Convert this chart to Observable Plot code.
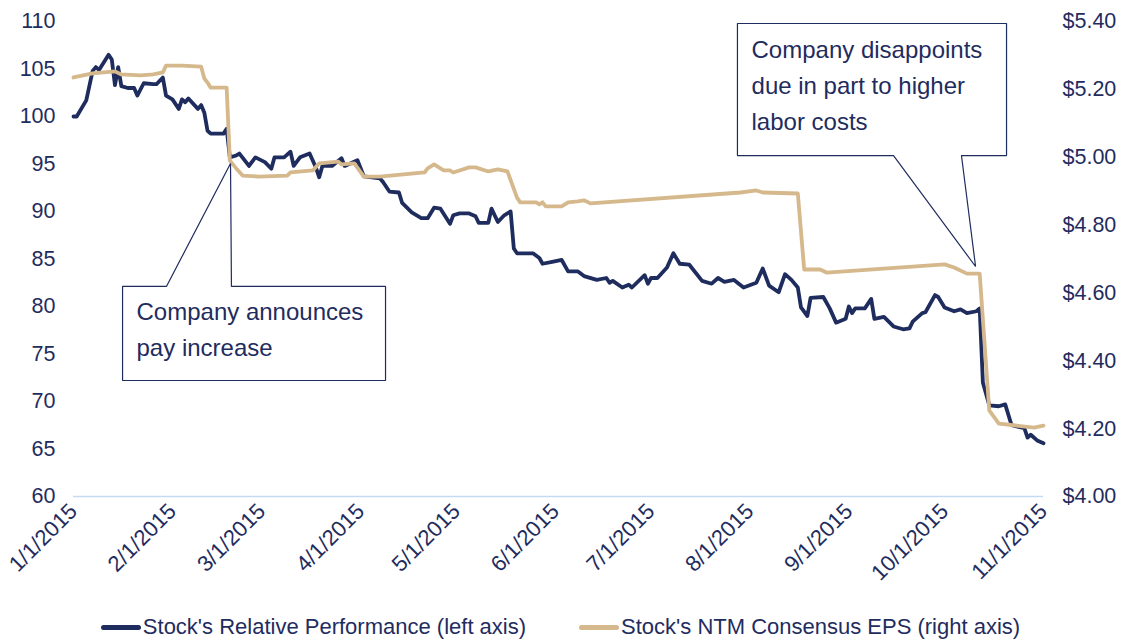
<!DOCTYPE html>
<html><head><meta charset="utf-8">
<script src="https://cdn.jsdelivr.net/npm/d3@7"></script>
<script src="https://cdn.jsdelivr.net/npm/@observablehq/plot@0.6"></script>
<style>
html,body{margin:0;padding:0;background:#fff;}
body{width:1121px;height:641px;overflow:hidden;font-family:"Liberation Sans",Arial,sans-serif;}
#legend{display:flex;justify-content:center;align-items:center;gap:53px;font-size:22px;color:#1f2c5e;margin-top:14px;line-height:26px;}
.item{display:flex;align-items:center;}
.sw{width:40px;height:5px;border-radius:3px;margin-right:2px;}
</style></head><body><div id="chart"></div><div id="legend"></div>
<script>
const perfDates = ["2015-01-01","2015-01-02","2015-01-05","2015-01-07","2015-01-08","2015-01-09","2015-01-12","2015-01-13","2015-01-14","2015-01-15","2015-01-16","2015-01-18","2015-01-20","2015-01-21","2015-01-23","2015-01-26","2015-01-27","2015-01-29","2015-01-30","2015-02-01","2015-02-03","2015-02-04","2015-02-05","2015-02-06","2015-02-09","2015-02-10","2015-02-11","2015-02-12","2015-02-13","2015-02-17","2015-02-18","2015-02-19","2015-02-21","2015-02-22","2015-02-25","2015-02-27","2015-03-02","2015-03-04","2015-03-05","2015-03-08","2015-03-10","2015-03-11","2015-03-13","2015-03-16","2015-03-18","2015-03-19","2015-03-20","2015-03-23","2015-03-26","2015-03-27","2015-03-31","2015-04-02","2015-04-07","2015-04-08","2015-04-10","2015-04-13","2015-04-14","2015-04-17","2015-04-20","2015-04-22","2015-04-24","2015-04-26","2015-04-29","2015-04-30","2015-05-02","2015-05-05","2015-05-07","2015-05-08","2015-05-11","2015-05-12","2015-05-14","2015-05-16","2015-05-18","2015-05-19","2015-05-20","2015-05-25","2015-05-27","2015-05-28","2015-05-31","2015-06-03","2015-06-05","2015-06-08","2015-06-10","2015-06-14","2015-06-17","2015-06-18","2015-06-19","2015-06-22","2015-06-24","2015-06-25","2015-06-29","2015-06-30","2015-07-01","2015-07-03","2015-07-06","2015-07-08","2015-07-10","2015-07-13","2015-07-17","2015-07-20","2015-07-22","2015-07-24","2015-07-27","2015-07-30","2015-08-03","2015-08-05","2015-08-07","2015-08-10","2015-08-12","2015-08-14","2015-08-16","2015-08-17","2015-08-19","2015-08-20","2015-08-24","2015-08-26","2015-08-28","2015-08-31","2015-09-01","2015-09-02","2015-09-03","2015-09-06","2015-09-08","2015-09-09","2015-09-12","2015-09-15","2015-09-18","2015-09-20","2015-09-21","2015-09-24","2015-09-25","2015-09-28","2015-09-29","2015-10-01","2015-10-04","2015-10-06","2015-10-08","2015-10-11","2015-10-12","2015-10-13","2015-10-15","2015-10-18","2015-10-20","2015-10-22","2015-10-26","2015-10-27","2015-10-28","2015-10-30","2015-11-01"];
const perfValues = [100.0,100.0,101.7,104.8,105.2,104.9,106.5,106.0,103.3,105.2,103.2,103.0,103.0,102.2,103.5,103.4,103.4,104.1,102.2,101.8,100.8,101.8,101.5,101.9,100.8,101.2,100.4,98.5,98.2,98.2,98.7,95.7,95.9,96.1,94.8,95.7,95.2,94.5,95.7,95.7,96.3,94.8,95.7,96.1,94.6,93.6,94.8,94.8,95.6,94.8,95.4,93.7,93.5,93.1,92.1,92.0,90.9,89.9,89.3,89.3,90.4,90.3,88.7,89.6,89.8,89.8,89.5,88.8,88.8,90.3,88.9,89.6,90.0,86.1,85.6,85.6,85.1,84.5,84.7,84.9,83.7,83.7,83.2,82.8,83.0,82.5,82.7,82.0,82.3,82.0,83.3,82.4,83.0,83.0,84.1,85.6,84.5,84.4,82.7,82.4,83.0,82.6,82.8,82.0,82.5,84.0,82.2,81.5,83.4,82.8,82.0,79.9,79.0,80.9,81.0,79.8,78.3,78.7,80.0,79.3,79.8,79.8,80.8,78.7,78.9,77.9,77.6,77.7,78.4,79.3,79.4,81.2,81.0,79.9,79.5,79.7,79.3,79.5,79.8,72.0,69.6,69.5,69.7,67.5,67.2,66.2,66.5,65.9,65.6];

const epsDates = ["2015-01-01","2015-01-07","2015-01-14","2015-01-16","2015-01-22","2015-01-26","2015-01-29","2015-01-30","2015-02-04","2015-02-10","2015-02-11","2015-02-12","2015-02-13","2015-02-18","2015-02-19","2015-02-21","2015-02-23","2015-02-28","2015-03-09","2015-03-10","2015-03-17","2015-03-19","2015-03-25","2015-03-26","2015-03-30","2015-04-02","2015-04-07","2015-04-21","2015-04-22","2015-04-24","2015-04-27","2015-04-29","2015-04-30","2015-05-05","2015-05-07","2015-05-11","2015-05-14","2015-05-17","2015-05-20","2015-05-21","2015-05-26","2015-05-27","2015-05-28","2015-05-29","2015-06-03","2015-06-05","2015-06-08","2015-06-10","2015-06-12","2015-07-29","2015-08-03","2015-08-05","2015-08-16","2015-08-18","2015-08-23","2015-08-25","2015-10-01","2015-10-04","2015-10-08","2015-10-12","2015-10-15","2015-10-18","2015-10-29","2015-11-01"];
const epsValues = [5.235,5.247,5.253,5.244,5.241,5.244,5.250,5.270,5.270,5.267,5.232,5.220,5.205,5.205,4.990,4.967,4.946,4.943,4.946,4.955,4.961,4.982,4.987,4.979,4.982,4.943,4.943,4.955,4.967,4.979,4.961,4.961,4.955,4.970,4.970,4.958,4.964,4.958,4.881,4.867,4.867,4.861,4.867,4.855,4.855,4.867,4.870,4.873,4.864,4.896,4.902,4.896,4.893,4.669,4.669,4.660,4.684,4.675,4.657,4.657,4.254,4.215,4.203,4.209];

const leftTicks = [60,65,70,75,80,85,90,95,100,105,110];
const rightTicks = [4.00,4.20,4.40,4.60,4.80,5.00,5.20,5.40];
const monthTicks = ["2015-01-01","2015-02-01","2015-03-01","2015-04-01","2015-05-01","2015-06-01","2015-07-01","2015-08-01","2015-09-01","2015-10-01","2015-11-01"];

const seriesNames = ["Stock's Relative Performance (left axis)","Stock's NTM Consensus EPS (right axis)"];

// annotation callouts (data coordinates: date, left-axis value)
const callout1Dates = ["2015-01-16T09:00","2015-01-30T03:00","2015-02-19T05:00","2015-02-19T12:00","2015-04-08T19:00","2015-04-08T19:00","2015-01-16T09:00","2015-01-16T09:00"];
const callout1Values = [82.11,82.11,95.05,82.11,82.11,72.21,72.21,82.11];
const callout2Dates = ["2015-07-28T02:00","2015-10-20T10:00","2015-10-20T10:00","2015-10-06T07:00","2015-10-10T17:00","2015-09-15T00:00","2015-07-28T02:00","2015-07-28T02:00"];
const callout2Values = [109.79,109.79,95.89,95.89,84.21,95.89,95.89,109.79];
const noteTexts = ["Company announces\npay increase","Company disappoints\ndue in part to higher\nlabor costs"];
const noteDates = ["2015-01-20T18:00","2015-08-01T12:00"];
const noteValues = [77.89,103.62];

const navy = "#1f2c5e", tan = "#d5b88c", base = "#c5daf3";
const parse = s => new Date(s.length === 10 ? s + "T00:00Z" : s + "Z");
const L0 = 60, L1 = 110, R0 = 4.0, R1 = 5.4;
const toLeft = v => L0 + (v - R0) / (R1 - R0) * (L1 - L0);

const perf = perfDates.map((d, i) => ({date: parse(d), value: perfValues[i]}));
const eps = epsDates.map((d, i) => ({date: parse(d), value: epsValues[i]}));
const c1 = callout1Dates.map((d, i) => ({date: parse(d), value: callout1Values[i]}));
const c2 = callout2Dates.map((d, i) => ({date: parse(d), value: callout2Values[i]}));
const notes = noteTexts.map((t, i) => ({text: t, date: parse(noteDates[i]), value: noteValues[i]}));

const chart = Plot.plot({
  width: 1121, height: 600,
  marginLeft: 73, marginRight: 78, marginTop: 21, marginBottom: 104,
  style: {fontSize: "21px", fontFamily: "'Liberation Sans', Arial, sans-serif", color: navy, background: "#fff"},
  x: {type: "utc", domain: [parse("2015-01-01"), parse("2015-11-01")]},
  y: {domain: [L0, L1]},
  marks: [
    Plot.ruleY([L0], {stroke: base, strokeWidth: 1.3}),
    Plot.axisY({anchor: "left", ticks: leftTicks, tickSize: 0, tickPadding: 18, label: null, fill: navy, fontSize: 21.5}),
    Plot.axisY({anchor: "right", ticks: rightTicks.map(toLeft), tickSize: 0, tickPadding: 19, label: null, fill: navy, fontSize: 21.5,
      tickFormat: v => "$" + (R0 + (v - L0) / (L1 - L0) * (R1 - R0)).toFixed(2)}),
    Plot.axisX({ticks: monthTicks.map(parse), tickSize: 0, tickPadding: 11, tickRotate: -45, label: null, fill: navy, fontSize: 22,
      tickFormat: d => `${d.getUTCMonth() + 1}/${d.getUTCDate()}/${d.getUTCFullYear()}`}),
    Plot.line(perf, {x: "date", y: "value", stroke: navy, strokeWidth: 3.8, strokeLinejoin: "round"}),
    Plot.line(eps, {x: "date", y: d => toLeft(d.value), stroke: tan, strokeWidth: 3.8, strokeLinejoin: "round"}),
    Plot.line(c1, {x: "date", y: "value", stroke: navy, strokeWidth: 1.2, fill: "white", strokeLinejoin: "miter"}),
    Plot.line(c2, {x: "date", y: "value", stroke: navy, strokeWidth: 1.2, fill: "white", strokeLinejoin: "miter"}),
    Plot.text(notes, {x: "date", y: "value", text: "text", textAnchor: "start", lineAnchor: "middle", lineHeight: 1.5, fontSize: 24, fill: navy})
  ]
});
document.getElementById("chart").appendChild(chart);

const colors = [navy, tan];
const leg = document.getElementById("legend");
seriesNames.forEach((n, i) => {
  const it = document.createElement("div"); it.className = "item";
  const sw = document.createElement("div"); sw.className = "sw"; sw.style.background = colors[i];
  const tx = document.createElement("span"); tx.textContent = n;
  it.appendChild(sw); it.appendChild(tx); leg.appendChild(it);
});
</script></body></html>
